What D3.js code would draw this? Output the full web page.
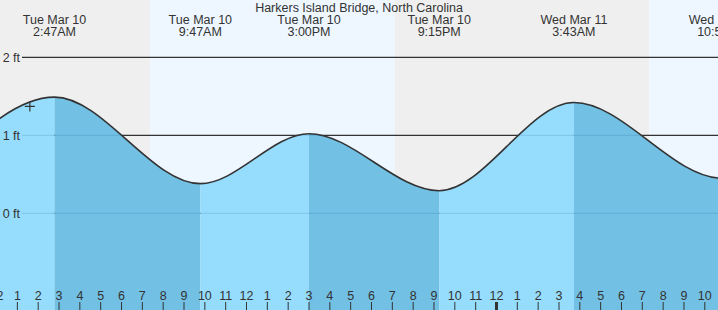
<!DOCTYPE html>
<html>
<head>
<meta charset="utf-8">
<script src="https://cdn.jsdelivr.net/npm/d3@7"></script>
<style>
  body { margin: 0; background: #fff; }
  svg text { font-family: "Liberation Sans", Arial, sans-serif; fill: #333; }
</style>
</head>
<body>
<svg width="718" height="310"></svg>
<script>
// station + tide extremes (hi/lo), heights in ft
const stationName = "Harkers Island Bridge, North Carolina";
const tideTimes = ["2026-03-09T20:38", "2026-03-10T02:47", "2026-03-10T09:47", "2026-03-10T15:00",
  "2026-03-10T21:15", "2026-03-11T03:43", "2026-03-11T10:50", "2026-03-11T16:50"];
const tideHeights = [0.33, 1.49, 0.38, 1.02, 0.29, 1.42, 0.45, 1.12];
// sunrise / sunset, used for the day/night background
const sunEvents = ["2026-03-10T07:22", "2026-03-10T19:07", "2026-03-11T07:20"];
const yTicks = [0, 1, 2];
// current time marker
const nowTime = "2026-03-10T01:36";
const nowHeight = 1.37;
// visible time window
const viewStart = "2026-03-10T00:10";
const viewEnd = "2026-03-11T10:38";

const parse = d3.timeParse("%Y-%m-%dT%H:%M");
let svg = d3.select("svg"),
  width = +svg.attr("width"),
  height = +svg.attr("height");

let tides = tideTimes.map(function(t, i) {
  return { date: parse(t), ft: tideHeights[i] };
});

let x = d3.scaleTime()
  .domain([parse(viewStart), parse(viewEnd)])
  .range([0, width]);
let y = d3.scaleLinear().domain([0, 2]).range([213.3, 57.3]);

//background: night grey, day pale blue
let sun = sunEvents.map(parse);
let bands = [[x.domain()[0], sun[0], "#efefef"], [sun[0], sun[1], "#eef7ff"],
  [sun[1], sun[2], "#efefef"], [sun[2], x.domain()[1], "#eef7ff"]];
svg.selectAll(".band")
  .data(bands)
  .enter()
  .append("rect")
  .attr("class", "band")
  .attr("x", function(d) { return x(d[0]); })
  .attr("y", 0)
  .attr("width", function(d) { return x(d[1]) - x(d[0]); })
  .attr("height", height)
  .attr("fill", function(d) { return d[2]; });

//grid lines (dark, behind the water)
svg.selectAll(".grid")
  .data(yTicks)
  .enter()
  .append("line")
  .attr("class", "grid")
  .attr("x1", 22).attr("x2", width)
  .attr("y1", function(d) { return y(d); })
  .attr("y2", function(d) { return y(d); })
  .attr("stroke", "#333")
  .attr("stroke-width", 1.2);

//water area
let area = d3.area()
  .x(function(d) { return x(d.date); })
  .y0(height)
  .y1(function(d) { return y(d.ft); })
  .curve(d3.curveMonotoneX);
let line = d3.line()
  .x(function(d) { return x(d.date); })
  .y(function(d) { return y(d.ft); })
  .curve(d3.curveMonotoneX);

svg.append("clipPath")
  .attr("id", "water")
  .append("path")
  .attr("d", area(tides));

let water = svg.append("g").attr("clip-path", "url(#water)");
// rising = light, falling = darker
water.selectAll(".seg")
  .data(d3.pairs(tides))
  .enter()
  .append("rect")
  .attr("class", "seg")
  .attr("x", function(d) { return x(d[0].date); })
  .attr("y", 0)
  .attr("width", function(d) { return x(d[1].date) - x(d[0].date); })
  .attr("height", height)
  .attr("fill", function(d) { return d[1].ft > d[0].ft ? "#96dcfc" : "#72c0e4"; });

water.selectAll(".wgrid")
  .data(yTicks)
  .enter()
  .append("line")
  .attr("x1", 22).attr("x2", width)
  .attr("y1", function(d) { return y(d); })
  .attr("y2", function(d) { return y(d); })
  .attr("stroke", "rgb(0,80,140)")
  .attr("stroke-opacity", 0.13)
  .attr("stroke-width", 1.2);

svg.append("path")
  .attr("d", line(tides))
  .attr("fill", "none")
  .attr("stroke", "#333")
  .attr("stroke-width", 1.6);

//y labels
svg.selectAll(".ylab")
  .data(yTicks)
  .enter()
  .append("text")
  .attr("x", 20)
  .attr("y", function(d) { return y(d); })
  .attr("dy", "0.36em")
  .attr("text-anchor", "end")
  .style("font-size", "12.5px")
  .text(function(d) { return d + " ft"; });

//title
svg.append("text")
  .attr("x", width / 2)
  .attr("y", 11.5)
  .attr("text-anchor", "middle")
  .style("font-size", "12.5px")
  .text(stationName);

//hi/lo labels
let fmtDay = d3.timeFormat("%a %b %-d");
let fmtTime = d3.timeFormat("%-I:%M%p");
let shown = tides.filter(function(d) {
  return x(d.date) > -30 && x(d.date) < width + 60;
});
let lab = svg.selectAll(".hilo")
  .data(shown)
  .enter()
  .append("text")
  .attr("class", "hilo")
  .attr("text-anchor", "middle")
  .style("font-size", "12.5px");
lab.append("tspan")
  .attr("x", function(d) { return x(d.date); })
  .attr("y", 24.3)
  .text(function(d) { return fmtDay(d.date); });
lab.append("tspan")
  .attr("x", function(d) { return x(d.date); })
  .attr("y", 36)
  .text(function(d) { return fmtTime(d.date); });

//hour axis
let hours = d3.timeHour.range(d3.timeHour.floor(x.domain()[0]), x.domain()[1]);
svg.selectAll(".hlab")
  .data(hours)
  .enter()
  .append("text")
  .attr("x", function(d) { return x(d); })
  .attr("y", 300)
  .attr("text-anchor", "middle")
  .style("font-size", "12.5px")
  .text(d3.timeFormat("%-I"));
svg.selectAll(".htick")
  .data(hours)
  .enter()
  .append("line")
  .attr("x1", function(d) { return x(d); })
  .attr("x2", function(d) { return x(d); })
  .attr("y1", 302)
  .attr("y2", height)
  .attr("stroke", "#333")
  .attr("stroke-width", function(d) { return d.getHours() === 0 ? 3 : 1; });

//now marker
let nx = x(parse(nowTime)), ny = y(nowHeight);
svg.append("path")
  .attr("d", "M" + (nx - 5) + "," + ny + "H" + (nx + 5) + "M" + nx + "," + (ny - 5) + "V" + (ny + 5))
  .attr("stroke", "#333")
  .attr("stroke-width", 1.2);
</script>
</body>
</html>
